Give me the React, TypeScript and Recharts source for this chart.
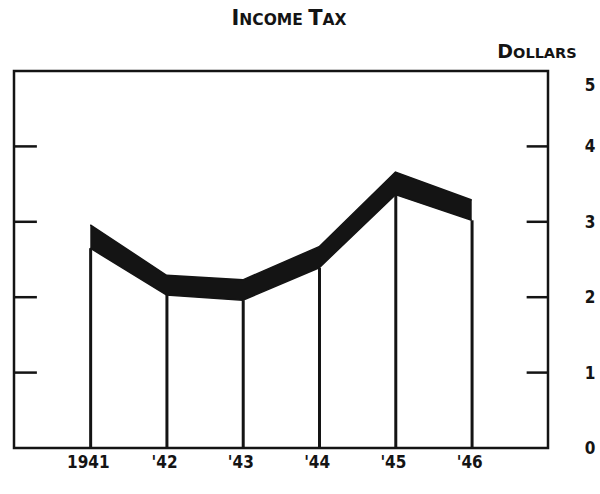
import React from "react";
import {
  ComposedChart,
  Area,
  Bar,
  XAxis,
  YAxis,
  ReferenceArea,
  ReferenceLine,
} from "recharts";

const years = [1941, 1942, 1943, 1944, 1945, 1946];
const yearLabels = ["1941", "'42", "'43", "'44", "'45", "'46"];
const upper = [2.96, 2.29, 2.23, 2.67, 3.66, 3.29];
const lower = [2.65, 2.03, 1.96, 2.39, 3.36, 3.02];
const yTicks = [0, 1, 2, 3, 4, 5];
const innerTicks = [1, 2, 3, 4];

const data = years.map((y, i) => ({
  year: y,
  upper: upper[i],
  lower: lower[i],
  band: [lower[i], upper[i]],
}));

const FONT = "'DejaVu Sans Condensed', 'DejaVu Sans', sans-serif";
const INK = "#141414";

const XTick = (props: any) => {
  const { x, y, payload } = props;
  const idx = years.indexOf(payload.value);
  return (
    <text
      x={x - 2}
      y={y + 12}
      textAnchor="middle"
      fontFamily={FONT}
      fontWeight="bold"
      fontSize={17}
      fill={INK}
    >
      {idx >= 0 ? yearLabels[idx] : ""}
    </text>
  );
};

const YTick = (props: any) => {
  const { x, y, payload } = props;
  const extra = payload.value === 5 ? 14 : 0;
  return (
    <text
      x={x + 34}
      y={y + extra + 6}
      textAnchor="middle"
      fontFamily={FONT}
      fontWeight="bold"
      fontSize={17}
      fill={INK}
    >
      {payload.value}
    </text>
  );
};

export default function App() {
  return (
    <div style={{ position: "absolute", left: 0, top: 0, width: 600, height: 494, background: "#fff" }}>
      <svg width={600} height={70} style={{ position: "absolute", left: 0, top: 0 }}>
        <text
          x={289}
          y={25}
          textAnchor="middle"
          fontFamily="'DejaVu Sans', sans-serif"
          fontWeight="bold"
          fill={INK}
        >
          <tspan fontSize={21}>I</tspan>
          <tspan fontSize={15.5}>NCOME </tspan>
          <tspan fontSize={21}>T</tspan>
          <tspan fontSize={15.5}>AX</tspan>
        </text>
        <text
          x={537}
          y={58}
          textAnchor="middle"
          fontFamily="'DejaVu Sans', sans-serif"
          fontWeight="bold"
          fill={INK}
        >
          <tspan fontSize={19}>D</tspan>
          <tspan fontSize={14.5}>OLLARS</tspan>
        </text>
      </svg>
      <ComposedChart
        width={600}
        height={494}
        data={data}
        margin={{ top: 71, left: 14, right: 0, bottom: 0 }}
      >
        <XAxis
          dataKey="year"
          type="number"
          domain={[1940, 1947]}
          ticks={years}
          axisLine={false}
          tickLine={false}
          height={46}
          tick={<XTick />}
          allowDataOverflow
        />
        <YAxis
          orientation="right"
          type="number"
          domain={[0, 5]}
          ticks={yTicks}
          axisLine={false}
          tickLine={false}
          width={52}
          tick={<YTick />}
          allowDataOverflow
        />
        <Bar dataKey="lower" barSize={3} fill={INK} isAnimationActive={false} />
        <Area
          type="linear"
          dataKey="band"
          fill={INK}
          fillOpacity={1}
          stroke={INK}
          strokeWidth={1.5}
          isAnimationActive={false}
          dot={false}
          activeDot={false}
        />
        {innerTicks.map((t) => (
          <ReferenceLine
            key={"l" + t}
            segment={[
              { x: 1940, y: t },
              { x: 1940.3, y: t },
            ]}
            stroke={INK}
            strokeWidth={2.5}
          />
        ))}
        {innerTicks.map((t) => (
          <ReferenceLine
            key={"r" + t}
            segment={[
              { x: 1946.72, y: t },
              { x: 1947, y: t },
            ]}
            stroke={INK}
            strokeWidth={2.5}
          />
        ))}
        <ReferenceArea
          x1={1940}
          x2={1947}
          y1={0}
          y2={5}
          fill="none"
          fillOpacity={0}
          stroke={INK}
          strokeWidth={2.5}
        />
      </ComposedChart>
    </div>
  );
}
